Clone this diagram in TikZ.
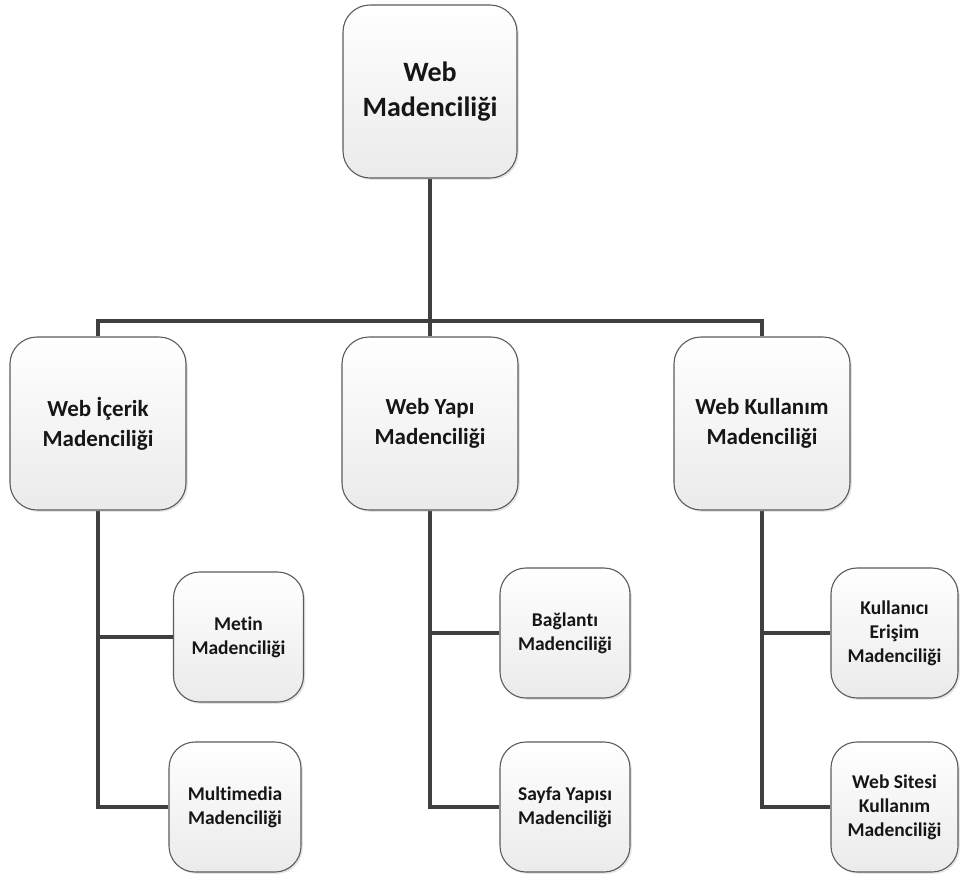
\documentclass[tikz,border=0pt]{standalone}
\usepackage{fontspec}
\setmainfont{Carlito}[Ligatures={NoCommon}]
\usetikzlibrary{shadows}
\definecolor{linegray}{HTML}{3F3F3F}
\definecolor{edgegray}{HTML}{5C5C5C}
\definecolor{inkgray}{HTML}{161616}
\pgfdeclarelayer{bg}
\pgfdeclarelayer{lines}
\pgfsetlayers{bg,lines,main}
\tikzset{
  box/.style={draw=edgegray, line width=1.1pt, rounded corners=27pt,
    top color=white, bottom color=black!8, inner sep=0pt,
    align=center, text=inkgray, font=\bfseries,
    drop shadow={shadow xshift=1.8pt, shadow yshift=-1.8pt, opacity=0.2}},
  rootbox/.style={box, minimum width=174pt, minimum height=173pt,
    font=\fontsize{28}{35}\selectfont\bfseries},
  midbox/.style={box, minimum width=176pt, minimum height=173pt,
    font=\fontsize{23}{30}\selectfont\bfseries},
  leafbox/.style={box, minimum width=130pt, minimum height=130pt,
    rounded corners=26pt, font=\fontsize{19.5}{24}\selectfont\bfseries},
  link/.style={draw=linegray, line width=4pt}
}
\begin{document}
\begin{tikzpicture}[x=1pt, y=-1pt]
  \begin{pgfonlayer}{bg}
    \fill[white] (0,0) rectangle (960,879);
  \end{pgfonlayer}
  \useasboundingbox (0,0) rectangle (960,879);

  % root and second level
  \node[rootbox] (web) at (430,91.5) {Web\\Madenciliği};
  \node[midbox] (icerik) at (98,423.5) {Web İçerik\\Madenciliği};
  \node[midbox] (yapi) at (430,423.5) {Web Yapı\\Madenciliği};
  \node[midbox] (kullanim) at (762,423.5) {Web Kullanım\\Madenciliği};

  % leaves
  \node[leafbox] (metin) at (238.5,637) {Metin\\Madenciliği};
  \node[leafbox, minimum width=132pt] (multi) at (235,807) {Multimedia\\Madenciliği};
  \node[leafbox] (baglanti) at (565,633) {Bağlantı\\Madenciliği};
  \node[leafbox] (sayfa) at (565,807) {Sayfa Yapısı\\Madenciliği};
  \node[leafbox, minimum width=127pt] (kullanici) at (894.5,633) {Kullanıcı\\Erişim\\Madenciliği};
  \node[leafbox, minimum width=127pt] (site) at (894.5,807) {Web Sitesi\\Kullanım\\Madenciliği};

  \coordinate (bar) at (430,321);

  % connectors
  \begin{pgfonlayer}{lines}
    \draw[link] (web.south) -- (bar);
    \draw[link] (icerik.north) |- (bar) -| (kullanim.north);
    \draw[link] (bar) -- (yapi.north);
    \draw[link] (icerik.south) |- (metin.west);
    \draw[link] (icerik.south) |- (multi.west);
    \draw[link] (yapi.south) |- (baglanti.west);
    \draw[link] (yapi.south) |- (sayfa.west);
    \draw[link] (kullanim.south) |- (kullanici.west);
    \draw[link] (kullanim.south) |- (site.west);
  \end{pgfonlayer}
\end{tikzpicture}
\end{document}
